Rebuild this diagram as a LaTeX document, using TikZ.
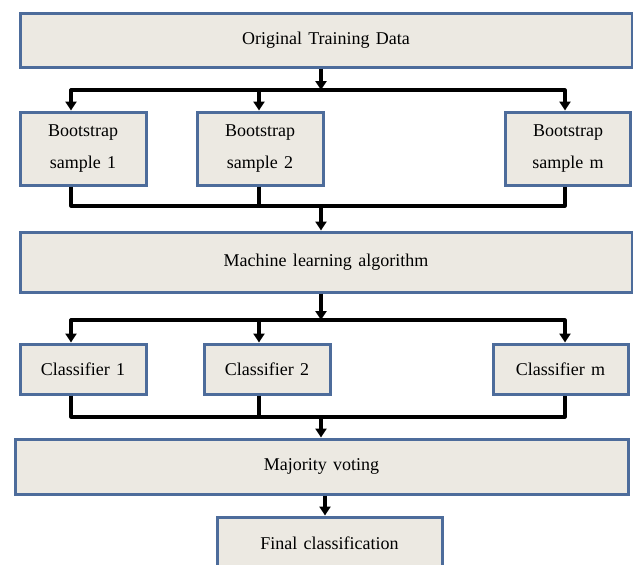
\documentclass[tikz,border=0pt]{standalone}
\usepackage{fontspec}
\setmainfont{Liberation Serif}[WordSpace=1.4]
\usetikzlibrary{arrows.meta}
\definecolor{boxfill}{HTML}{ECE9E2}
\definecolor{boxedge}{HTML}{4D6C9B}
\begin{document}
\begin{tikzpicture}[x=1pt,y=-1pt,
  box/.style={draw=boxedge, line width=3pt, fill=boxfill, inner sep=0pt,
              align=center, font=\fontsize{18}{32}\selectfont},
  wire/.style={line width=3.2pt, black, line join=round},
  link/.style={wire, -{Triangle[width=11pt,length=9pt]}}]
\useasboundingbox (0,0) rectangle (633,565);
\begin{scope}
\clip (0,0) rectangle (633,565);

% process boxes
\node[box, minimum width=612pt, minimum height=54pt] (orig) at (326,40) {Original Training Data};
\node[box, minimum width=126pt, minimum height=73pt] (bs1) at (83,148.5) {Bootstrap\\sample 1};
\node[box, minimum width=126pt, minimum height=73pt] (bs2) at (260,148.5) {Bootstrap\\sample 2};
\node[box, minimum width=125pt, minimum height=73pt] (bsm) at (568,148.5) {Bootstrap\\sample m};
\node[box, minimum width=612pt, minimum height=60pt] (ml) at (326,262) {Machine learning algorithm};
\node[box, minimum width=126pt, minimum height=50pt] (c1) at (83,369) {Classifier 1};
\node[box, minimum width=126pt, minimum height=50pt] (c2) at (267,369) {Classifier 2};
\node[box, minimum width=135pt, minimum height=50pt] (cm) at (560.5,369) {Classifier m};
\node[box, minimum width=613pt, minimum height=55pt] (mv) at (321.5,466.5) {Majority voting};
\node[box, minimum width=225pt, minimum height=52pt] (fc) at (329.5,543) {Final classification};

% bus positions
\coordinate (split1) at (321,90);
\coordinate (join1)  at (321,206);
\coordinate (split2) at (321,320);
\coordinate (join2)  at (321,417);
\coordinate (colA) at (71,0);
\coordinate (colB) at (259,0);
\coordinate (colM) at (565,0);
\coordinate (colF) at (325,0);

% training data -> bootstrap samples
\draw[link] (orig.south -| split1) -- (split1);
\draw[link] (split1) -| (bs1.north -| colA);
\draw[link] (split1) -| (bsm.north -| colM);
\draw[link] (split1 -| colB) -- (bs2.north -| colB);

% bootstrap samples -> learning algorithm
\draw[wire] (bs1.south -| colA) |- (join1) -| (bsm.south -| colM);
\draw[wire] (bs2.south -| colB) -- (join1 -| colB);
\draw[link] (join1) -- (ml.north -| join1);

% learning algorithm -> classifiers
\draw[link] (ml.south -| split2) -- (split2);
\draw[link] (split2) -| (c1.north -| colA);
\draw[link] (split2) -| (cm.north -| colM);
\draw[link] (split2 -| colB) -- (c2.north -| colB);

% classifiers -> majority voting
\draw[wire] (c1.south -| colA) |- (join2) -| (cm.south -| colM);
\draw[wire] (c2.south -| colB) -- (join2 -| colB);
\draw[link] (join2) -- (mv.north -| join2);

% majority voting -> final classification
\draw[link] (mv.south -| colF) -- (fc.north -| colF);
\end{scope}
\end{tikzpicture}
\end{document}
